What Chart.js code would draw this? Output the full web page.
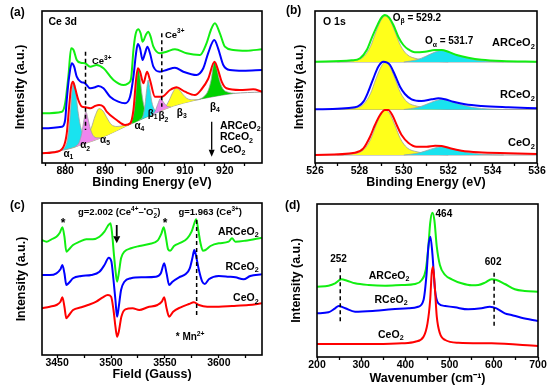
<!DOCTYPE html>
<html><head><meta charset="utf-8">
<script src="https://cdn.jsdelivr.net/npm/chart.js@4/dist/chart.umd.min.js"></script>
<style>
html,body{margin:0;padding:0;background:#fff;}
#wrap{position:relative;width:553px;height:386px;overflow:hidden;background:#fff;}
canvas{position:absolute;}
.pl{position:absolute;font:bold 12px 'Liberation Sans',Arial,sans-serif;color:#000;line-height:12px;}
</style></head><body>
<div id="wrap">
<canvas id="ca" width="276" height="190" style="left:0;top:0"></canvas>
<canvas id="cb" width="277" height="190" style="left:276px;top:0"></canvas>
<canvas id="cc" width="276" height="196" style="left:0;top:190px"></canvas>
<canvas id="cd" width="277" height="196" style="left:276px;top:190px"></canvas>
<div class="pl" style="left:10px;top:6px">(a)</div>
<div class="pl" style="left:286px;top:4px">(b)</div>
<div class="pl" style="left:10px;top:199px">(c)</div>
<div class="pl" style="left:285px;top:199px">(d)</div>
</div>
<script>
// ---------- (a) Ce 3d XPS ----------
const a_CeO2_E = [874.2,877.9,879.6,880.4,881.0,881.5,881.95,882.5,883.3,884.2,885.1,886.3,887.5,888.5,889.6,890.4,892.9,895.0,896.3,897.1,897.75,898.2,898.75,899.6,900.5,901.25,902.5,904.2,906.25,907.9,910.0,912.5,914.2,915.8,917.4,918.3,919.2,920.4,923.75,927.1,929.3];
const a_CeO2_I = [9.7,11.3,16.3,29.7,56.3,76.3,81.3,74.7,63,56.3,55.7,54.7,57,58,56.3,51.3,43,38,39.7,53,83,94.7,91.3,79.7,91.3,83,66.3,66.3,73,75.7,71.3,68,74,84,101.3,93,81.3,74.7,73,73.7,71.3];
const a_RCeO2_E = [874.2,879.2,880.0,880.4,881.0,881.65,882.25,882.9,883.9,885.0,886.25,887.5,888.3,889.6,891.25,893.3,895.0,896.25,897.1,897.75,898.2,898.75,899.4,900.0,900.6,901.25,902.1,903.75,905.4,907.5,909.6,912.9,914.6,915.8,917.35,918.3,919.6,921.25,924.6,929.3];
const a_RCeO2_I = [34.7,36.3,43,63,86.3,99.7,96.3,86.3,81.3,79.7,74.7,75.7,77,74.7,66.3,61.3,59.7,66.3,86.3,109.7,119,114.7,103,109.7,116.3,109.7,96.3,91.3,93,95.3,91.3,88,94.7,109.7,123,114.7,98,93,92.3,93];
const a_ARCeO2_E = [874.2,879.2,880.0,880.8,881.5,882.1,882.9,883.9,885.0,886.25,887.9,889.6,892.1,894.6,895.8,896.5,897.1,897.6,898.3,898.9,899.4,900.2,900.8,901.4,902.1,903.75,905.4,907.5,910.4,913.75,915.4,916.5,917.5,918.75,920.0,922.1,925.4,929.3];
const a_ARCeO2_I = [49.7,51.3,59.7,86.3,114.7,113,103,100.3,99.7,96.3,98,94.7,83,78,79.7,84,113,128,133.7,129.7,121.3,128,131.3,126.3,116.3,109.7,111.3,113.7,109.7,108,119.7,133,139.7,129.7,116.3,113,112.3,113.7];
const a_bg_E = [874.2,880.4,884.6,888.75,892.9,895.4,898.75,902.9,907.1,912.1,916.25,922.1,929.3];
const a_bg_I = [9.7,13.7,19,24.7,32.3,37,43,50.3,57,62.3,65.7,69.5,71];
const a_alpha1_E = [878.5,879.8,880.6,881.2,881.7,882.1,882.6,883.2,884.0,885.0,886.3,887.5];
const a_alpha1_I = [12.4,15,24,45,70,81,73,52,34,26.6,23.3,23];
const a_alpha2_E = [882.5,883.5,884.2,884.7,885.2,885.7,886.3,887.0,888.0,889.0];
const a_alpha2_I = [16.3,20.6,30.5,43,51.3,44.5,34.3,27.5,25.2,25.1];
const a_alpha5_E = [880.0,883.0,885.0,886.5,887.5,888.5,889.5,890.5,891.5,893.0,895.0,897.0];
const a_alpha5_I = [13.4,17,24.6,34.6,47,54.4,51.9,44.9,38.7,36.5,37.8,39.9];
const a_alpha4_E = [895.5,896.5,897.2,897.7,898.0,898.3,898.7,899.2,899.8,900.6,901.8];
const a_alpha4_I = [37.2,41,50.2,69,86.7,94.7,87.9,69.8,55.8,50.2,48.4];
const a_beta1_E = [898.5,899.5,900.0,900.4,900.8,901.2,901.7,902.4,903.5];
const a_beta1_I = [42.6,47.3,58.2,72.9,83,74.3,61.2,53.4,51.3];
const a_beta2_E = [901.5,902.5,903.2,903.9,904.6,905.5,906.5];
const a_beta2_I = [47.8,51.6,58.8,64.7,61,56.9,56];
const a_beta3_E = [903.0,905.0,906.0,907.0,907.7,908.5,909.5,910.5,912.0,913.5];
const a_beta3_I = [50.5,55.7,62.3,70.9,74.6,73.5,68.6,64.6,63.2,63.4];
const a_beta4_E = [913.5,914.8,915.8,916.6,917.0,917.4,917.9,918.6,919.5,920.8,922.5];
const a_beta4_I = [63.4,66.6,72.4,84,95.3,101.3,96,83.5,74.2,70.8,69.7];

// ---------- (b) O 1s XPS ----------
const b_ARCeO2_E = [526.0,527.65,528.03,528.33,528.55,528.78,528.97,529.15,529.33,529.53,529.75,529.98,530.2,530.5,530.95,531.41,531.71,532.0,532.38,532.9,533.5,534.41,536.0];
const b_ARCeO2_I = [101.3,102.7,104.7,113,124.7,136.3,144.7,148,145.7,138,126.3,118,113.7,110.7,111.3,113,113,111.3,108,105.3,103.3,102,101.3];
const b_RCeO2_E = [526.0,527.8,528.18,528.4,528.63,528.85,529.08,529.23,529.38,529.6,529.83,530.05,530.35,530.8,531.26,531.56,531.86,532.23,532.76,533.5,534.71,536.0];
const b_RCeO2_I = [53.7,55.7,61.3,71.3,84.7,96.3,101.3,100.7,98,88,76.3,69,63.7,62,63.7,64.7,63.7,61.3,58.7,57,55.7,54.7];
const b_CeO2_E = [526.0,527.8,528.18,528.48,528.7,528.93,529.15,529.3,529.48,529.68,529.9,530.2,530.58,531.03,531.41,531.71,532.08,532.6,533.36,534.71,536.0];
const b_CeO2_I = [8,10.3,14.7,26.3,38,48,53,53,48,38,28,20.3,16.3,16.3,17.3,17,14.7,12.3,10.7,9.7,9];
const b_base = [101, 53.5, 8];            // ARCeO2, RCeO2, CeO2 backgrounds
const b_Obeta_E = [527.0,527.8,528.2,528.5,528.75,529.0,529.15,529.35,529.6,529.85,530.15,530.6,531.3,532.0];
const b_Obeta_AR = [101,102.4,106.5,116.6,131.4,143.8,147,143.8,131.4,117.6,108.4,104.2,101.9,101];
const b_Obeta_R  = [53.5,54.9,59.1,69.5,84.5,97.2,100.5,97.2,84.5,70.4,61,56.8,54.4,53.5];
const b_Obeta_C  = [8,9.4,13.4,23.3,37.7,49.9,53,49.9,37.7,24.2,15.2,11.2,8.9,8];
const b_Oalpha_E = [530.0,530.6,531.0,531.4,531.7,532.0,532.4,532.9,533.5,534.5];
const b_Oalpha_AR = [101,103.3,106.8,110.9,112.5,111.1,107.9,104.5,102.2,101];
const b_Oalpha_R  = [53.5,55.5,58.5,62.1,63.5,62.3,59.5,56.5,54.5,53.5];
const b_Oalpha_C  = [8,9.7,12.2,15.1,16.3,15.3,13,10.5,8.8,8];

// ---------- (c) EPR ----------
const c_ARCeO2_G = [3435.6,3440.2,3444.8,3449.4,3452.5,3454.9,3456.8,3458.6,3461.1,3464.8,3470.9,3477,3483.2,3489.3,3493.9,3497,3499.5,3501,3502.6,3504.1,3505.6,3507.2,3509.3,3512.4,3518.5,3526.2,3535.4,3543.1,3546.8,3548.9,3550.8,3552.9,3554.8,3558.4,3564.6,3570.7,3574.7,3577.8,3579,3580.9,3583,3585.2,3587.6,3592.2,3599.9,3609.1,3612.2,3615.3,3624.5,3640];
const c_ARCeO2_I = [115,113.3,115.7,118.3,122.3,127.7,118.3,103.3,105.7,110,113.3,115.7,115.7,118.3,123.3,129,131.7,121.7,101.7,85,73.3,81.7,96.7,103.3,106.7,109,111,114.3,121.7,127.7,118.3,105.7,104.3,109,112.3,116.7,123.3,133.3,135.7,125,111.7,104.3,105,109,111.7,113.3,116.7,113.3,114.3,117.3];
const c_RCeO2_G = [3435.6,3443.3,3449.4,3453.1,3454.9,3456.8,3458.6,3461.1,3464.8,3472.5,3481.7,3489.3,3493.9,3497.9,3500.4,3502.3,3504.1,3505.6,3507.2,3509.3,3512.4,3518.5,3529.3,3541.6,3546.2,3549.3,3551.5,3553.9,3557,3563.1,3569.3,3573,3575.4,3577.2,3579,3581.5,3584.6,3587,3590.7,3599.9,3609.1,3615.3,3622.9,3629.1,3640];
const c_RCeO2_I = [80,80,81.7,85.7,90,81.7,70,72.3,76.7,79,80,83.3,90,97.3,93.3,75,55,38.3,48.3,65,73.3,76.7,77.7,78.3,81.7,91.7,81.7,70,73.3,77.7,81,86.7,96.7,105,98.3,85,73.3,71,75.7,79,78.3,77.7,75.7,79,80.7];
const c_CeO2_G = [3435.6,3443.3,3449.4,3453.1,3454.9,3456.8,3458.6,3461.1,3464.8,3472.5,3478.6,3486.3,3492.4,3497,3500.1,3502.3,3504.1,3505.6,3507.2,3509.6,3513.3,3520,3526.2,3533.9,3543.1,3547.1,3549.3,3551.5,3553.9,3557.6,3564.6,3572.3,3576.9,3581.5,3589.2,3599.9,3612.2,3627.6,3640];
const c_CeO2_I = [46.7,48.3,50,53.3,57.7,48.3,36.7,40,45,47.7,50,53.3,57.7,60,58.3,45,28.3,18.3,23.3,38.3,45.7,46.7,45,47.7,50,53.3,57.7,46.7,38.3,43.3,47.7,51,52.7,50,48.3,48.3,49,50,51.7];

// ---------- (d) Raman ----------
const d_ARCeO2_W = [200,226,241,255,268,286,317,354,392,422,437,446,452,456,461,465.5,471,478,490,505,527,550,565,580,595,606,625,647.5,670,700];
const d_ARCeO2_I = [70.3,71.3,73.7,77.7,76.3,73.7,72,71.3,72,73,77,87,110.3,133.7,144.3,137,110.3,92,82,77.7,73.7,71.7,72,74.3,77.7,77,73,67.7,66,65.3];
const d_RCeO2_W = [200,226,241,249,264,286,332,369,407,429,441,448,452,456.5,461,467,474.5,490,512,542,572,591,606,625,640,662.5,700];
const d_RCeO2_I = [43.7,44.7,48.7,51,48.7,45.3,46.3,47.7,48.7,50.3,57,83.7,110.3,120.3,103.7,67,53.7,51,49.7,47.7,48.7,50.3,48.7,43.7,42,39.3,36];
const d_CeO2_W = [200,256,332,392,422,441,450,456,459.5,462.5,466,471,478,490,520,595,700];
const d_CeO2_I = [13,13,13,13.7,15.3,20.3,33.7,57,83.7,90.3,73.7,40.3,23.7,17,14.3,13.7,11];

// ---------- helpers ----------
const FONT = "'Liberation Sans', Arial, sans-serif";
Chart.defaults.font.family = FONT;
Chart.defaults.color = '#000';
const RED = '#ff0000', BLUE = '#0000ff', GREEN = '#11ee11';
const CYAN = '#19e3ef', MAG = '#ee86ee', YEL = '#ffff1a', GRN = '#00d200', GRAY = '#a0a0a0';

const pts = (xs, ys) => xs.map((x, i) => ({x, y: ys[i]}));
const curve = (xs, ys, color, order) => ({data: pts(xs, ys), borderColor: color, borderWidth: 2, pointRadius: 0, fill: false, order, cubicInterpolationMode: 'monotone'});
const comp = (xs, ys, color, fill, order) => ({data: pts(xs, ys), borderColor: GRAY, borderWidth: 0.8, backgroundColor: color, fill, pointRadius: 0, order, cubicInterpolationMode: 'monotone'});
const dash = (x, y0, y1) => ({data: [{x, y: y0}, {x, y: y1}], borderColor: '#000', borderWidth: 1.5, borderDash: [4, 3], pointRadius: 0, tension: 0, fill: false, order: -1});

function drawRich(ctx, segs, x, y, align, size) {
  const F = s => `bold ${s}px ${FONT}`;
  const small = size * 0.68;
  let w = 0;
  const parts = segs.map(([t, m, e]) => {
    const fs = m ? small : size;
    ctx.font = F(fs);
    let pw = ctx.measureText(t).width;
    if (m === 'subsup') pw = Math.max(pw, ctx.measureText(e).width);
    w += pw;
    return {t, m, e, fs, pw};
  });
  let cx = align === 'left' ? x : align === 'right' ? x - w : x - w / 2;
  ctx.textBaseline = 'middle'; ctx.textAlign = 'left'; ctx.fillStyle = '#000';
  for (const p of parts) {
    ctx.font = F(p.fs);
    let dy = 0;
    if (p.m === 'sub' || p.m === 'subsup') dy = size * 0.32;
    if (p.m === 'sup') dy = -size * 0.38;
    ctx.fillText(p.t, cx, y + dy);
    if (p.m === 'subsup') ctx.fillText(p.e, cx, y - size * 0.38);
    cx += p.pw;
  }
}

const framePlugin = {
  id: 'frame',
  afterDraw(chart) {
    const {ctx, chartArea: a} = chart;
    ctx.save(); ctx.strokeStyle = '#000'; ctx.lineWidth = 1.6;
    ctx.strokeRect(a.left, a.top, a.right - a.left, a.bottom - a.top);
    ctx.restore();
  }
};
const notesPlugin = notes => ({
  id: 'notes',
  afterDatasetsDraw(chart) {
    const {ctx} = chart; const sx = chart.scales.x, sy = chart.scales.y;
    ctx.save();
    for (const n of notes) {
      const px = sx.getPixelForValue(n.x);
      if (n.t === 'arrow') {
        const y0 = sy.getPixelForValue(n.y0), y1 = sy.getPixelForValue(n.y1);
        ctx.strokeStyle = '#000'; ctx.fillStyle = '#000'; ctx.lineWidth = n.w;
        ctx.beginPath(); ctx.moveTo(px, y0); ctx.lineTo(px, y1 - n.h); ctx.stroke();
        ctx.beginPath(); ctx.moveTo(px - n.hw, y1 - n.h); ctx.lineTo(px + n.hw, y1 - n.h); ctx.lineTo(px, y1); ctx.closePath(); ctx.fill();
      } else {
        drawRich(ctx, n.segs, px, sy.getPixelForValue(n.y), n.align || 'left', n.size || 10.5);
      }
    }
    ctx.restore();
  }
});

function makeChart(id, c) {
  return new Chart(document.getElementById(id), {
    type: 'line',
    data: {datasets: c.datasets},
    options: {
      responsive: false, animation: false, devicePixelRatio: 1, events: [],
      layout: {padding: {left: 0, top: c.top, right: c.right, bottom: 0}},
      plugins: {legend: {display: false}, tooltip: {enabled: false}},
      elements: {point: {radius: 0}},
      scales: {
        x: {type: 'linear', min: c.xmin, max: c.xmax,
          afterFit: s => { s.height = c.xH; },
          border: {display: false},
          grid: {drawOnChartArea: false, drawTicks: true, tickLength: 3, tickColor: '#000', tickWidth: 1.3},
          ticks: {stepSize: c.step, includeBounds: false, autoSkip: false, maxRotation: 0, maxTicksLimit: 100, padding: 0,
            color: '#000', font: {size: 10.5, weight: 'bold', lineHeight: 1},
            callback: v => (Math.abs(v % c.every) < 1e-6 ? String(v) : '')},
          title: {display: true, text: c.xTitle, color: '#000', font: {size: 12.5, weight: 'bold'}, padding: {top: 0, bottom: c.xTitlePad}}},
        y: {type: 'linear', min: 0, max: c.ymax,
          afterFit: s => { s.width = c.left; },
          border: {display: false}, grid: {display: false}, ticks: {display: false},
          title: {display: true, text: 'Intensity (a.u.)', color: '#000', font: {size: 12.5, weight: 'bold'}, padding: {top: c.yTitlePad, bottom: 0}}}
      }
    },
    plugins: [framePlugin, notesPlugin(c.notes)]
  });
}

// ---------- (a) ----------
makeChart('ca', {
  xmin: 874.2, xmax: 929.3, step: 5, every: 10, xTitle: 'Binding Energy (eV)', ymax: 152,
  left: 42, top: 11, right: 14, xH: 27, xTitlePad: 0, yTitlePad: 13,
  datasets: [
    {data: pts(a_bg_E, a_bg_I), borderColor: GRAY, borderWidth: 1, pointRadius: 0, fill: false, order: 6, cubicInterpolationMode: 'monotone'},
    comp(a_alpha5_E, a_alpha5_I, YEL, 0, 5),
    comp(a_alpha1_E, a_alpha1_I, CYAN, 0, 5),
    comp(a_alpha2_E, a_alpha2_I, MAG, 0, 4),
    comp(a_alpha4_E, a_alpha4_I, GRN, 0, 5),
    comp(a_beta1_E, a_beta1_I, CYAN, 0, 4),
    comp(a_beta2_E, a_beta2_I, MAG, 0, 3),
    comp(a_beta3_E, a_beta3_I, YEL, 0, 5),
    comp(a_beta4_E, a_beta4_I, GRN, 0, 5),
    curve(a_CeO2_E, a_CeO2_I, RED, 1),
    curve(a_RCeO2_E, a_RCeO2_I, BLUE, 1),
    curve(a_ARCeO2_E, a_ARCeO2_I, GREEN, 1),
    dash(885.1, 111.3, 33),
    dash(904.2, 129.7, 56.3)
  ],
  notes: [
    {x: 875.8, y: 141.3, size: 10.5, segs: [['Ce 3d']]},
    {x: 886.7, y: 101.3, size: 9.5, segs: [['Ce'], ['3+', 'sup']]},
    {x: 905.0, y: 128, size: 9.5, segs: [['Ce'], ['3+', 'sup']]},
    {x: 880.8, y: 9, align: 'center', size: 10, segs: [['α'], ['1', 'sub']]},
    {x: 885.0, y: 17.3, align: 'center', size: 10, segs: [['α'], ['2', 'sub']]},
    {x: 890.0, y: 23, align: 'center', size: 10, segs: [['α'], ['5', 'sub']]},
    {x: 898.6, y: 37, align: 'center', size: 10, segs: [['α'], ['4', 'sub']]},
    {x: 901.9, y: 49, align: 'center', size: 10, segs: [['β'], ['1', 'sub']]},
    {x: 904.6, y: 46.3, align: 'center', size: 10, segs: [['β'], ['2', 'sub']]},
    {x: 909.2, y: 49.7, align: 'center', size: 10, segs: [['β'], ['3', 'sub']]},
    {x: 917.5, y: 55.7, align: 'center', size: 10, segs: [['β'], ['4', 'sub']]},
    {x: 918.75, y: 37, size: 10.5, segs: [['ARCeO'], ['2', 'sub']]},
    {x: 918.75, y: 25.7, size: 10.5, segs: [['RCeO'], ['2', 'sub']]},
    {x: 918.75, y: 13, size: 10.5, segs: [['CeO'], ['2', 'sub']]},
    {t: 'arrow', x: 916.7, y0: 41.3, y1: 6.3, w: 1.3, h: 7, hw: 3}
  ]
});

// ---------- (b) ----------
makeChart('cb', {
  xmin: 526, xmax: 536, step: 1, every: 2, xTitle: 'Binding Energy (eV)', ymax: 152,
  left: 39, top: 11, right: 16, xH: 27, xTitlePad: 0, yTitlePad: 16.5,
  datasets: [
    curve(b_ARCeO2_E, b_ARCeO2_I, GREEN, 1),
    curve(b_RCeO2_E, b_RCeO2_I, BLUE, 1),
    curve(b_CeO2_E, b_CeO2_I, RED, 1),
    comp(b_Obeta_E, b_Obeta_AR, YEL, {value: b_base[0]}, 5),
    comp(b_Oalpha_E, b_Oalpha_AR, CYAN, {value: b_base[0]}, 4),
    comp(b_Obeta_E, b_Obeta_R, YEL, {value: b_base[1]}, 5),
    comp(b_Oalpha_E, b_Oalpha_R, CYAN, {value: b_base[1]}, 4),
    comp(b_Obeta_E, b_Obeta_C, YEL, {value: b_base[2]}, 5),
    comp(b_Oalpha_E, b_Oalpha_C, CYAN, {value: b_base[2]}, 4),
    {data: [{x: 526, y: b_base[0]}, {x: 536, y: b_base[0]}], borderColor: GRAY, borderWidth: 1, pointRadius: 0, order: 6},
    {data: [{x: 526, y: b_base[1]}, {x: 536, y: b_base[1]}], borderColor: GRAY, borderWidth: 1, pointRadius: 0, order: 6},
    {data: [{x: 526, y: b_base[2]}, {x: 536, y: b_base[2]}], borderColor: GRAY, borderWidth: 1, pointRadius: 0, order: 6}
  ],
  notes: [
    {x: 526.36, y: 141.3, size: 10.5, segs: [['O 1s']]},
    {x: 529.5, y: 144.7, size: 10, segs: [['O'], ['β', 'sub'], [' = 529.2']]},
    {x: 530.95, y: 121.3, size: 10, segs: [['O'], ['α', 'sub'], [' = 531.7']]},
    {x: 535.9, y: 119.7, align: 'right', size: 11, segs: [['ARCeO'], ['2', 'sub']]},
    {x: 535.9, y: 68, align: 'right', size: 11, segs: [['RCeO'], ['2', 'sub']]},
    {x: 535.9, y: 19.7, align: 'right', size: 11, segs: [['CeO'], ['2', 'sub']]}
  ]
});

// ---------- (c) ----------
makeChart('cc', {
  xmin: 3436, xmax: 3640, step: 25, every: 50, xTitle: 'Field (Gauss)', ymax: 152,
  left: 42, top: 13, right: 14, xH: 31, xTitlePad: 3.5, yTitlePad: 14,
  datasets: [
    curve(c_ARCeO2_G, c_ARCeO2_I, GREEN, 1),
    curve(c_RCeO2_G, c_RCeO2_I, BLUE, 1),
    curve(c_CeO2_G, c_CeO2_I, RED, 1),
    dash(3579.4, 135, 39)
  ],
  notes: [
    {x: 3469.4, y: 142.3, size: 9.5, segs: [['g=2.002 (Ce'], ['4+', 'sup'], ['–'], ['•', 'sup'], ['O'], ['2', 'subsup', '−'], [')']]},
    {x: 3562.5, y: 142.3, size: 9.5, segs: [['g=1.963 (Ce'], ['3+', 'sup'], [')']]},
    {x: 3455.5, y: 131, align: 'center', size: 12, segs: [['*']]},
    {x: 3550.2, y: 131, align: 'center', size: 12, segs: [['*']]},
    {x: 3636.9, y: 123.3, align: 'right', size: 10.5, segs: [['ARCeO'], ['2', 'sub']]},
    {x: 3636.9, y: 88.3, align: 'right', size: 10.5, segs: [['RCeO'], ['2', 'sub']]},
    {x: 3636.9, y: 56.7, align: 'right', size: 10.5, segs: [['CeO'], ['2', 'sub']]},
    {x: 3560, y: 17.5, size: 10, segs: [['* Mn'], ['2+', 'sup']]},
    {t: 'arrow', x: 3505.3, y0: 130, y1: 111.7, w: 1.8, h: 7, hw: 3.5}
  ]
});

// ---------- (d) ----------
makeChart('cd', {
  xmin: 200, xmax: 700, step: 50, every: 100, xTitle: 'Wavenumber (cm⁻¹)', ymax: 153,
  left: 41, top: 14, right: 15, xH: 29, xTitlePad: 0, yTitlePad: 13.5,
  datasets: [
    curve(d_ARCeO2_W, d_ARCeO2_I, GREEN, 3),
    curve(d_RCeO2_W, d_RCeO2_I, BLUE, 2),
    curve(d_CeO2_W, d_CeO2_I, RED, 1),
    dash(252.6, 88.7, 35.3),
    dash(600.7, 84.3, 31)
  ],
  notes: [
    {x: 487, y: 143, align: 'center', size: 10, segs: [['464']]},
    {x: 248.8, y: 97.7, align: 'center', size: 10, segs: [['252']]},
    {x: 598.5, y: 94.3, align: 'center', size: 10, segs: [['602']]},
    {x: 363.2, y: 81, align: 'center', size: 10.5, segs: [['ARCeO'], ['2', 'sub']]},
    {x: 367.5, y: 57, align: 'center', size: 10.5, segs: [['RCeO'], ['2', 'sub']]},
    {x: 367, y: 22, align: 'center', size: 10.5, segs: [['CeO'], ['2', 'sub']]}
  ]
});
</script>
</body></html>
